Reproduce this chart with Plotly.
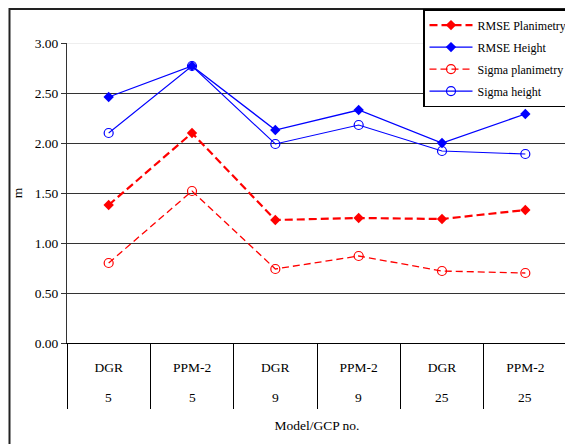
import plotly.graph_objects as go

models = ["DGR", "PPM-2", "DGR", "PPM-2", "DGR", "PPM-2"]
gcps = ["5", "5", "9", "9", "25", "25"]
rmse_plan = [1.38, 2.10, 1.23, 1.25, 1.24, 1.33]
rmse_height = [2.46, 2.77, 2.13, 2.33, 2.00, 2.29]
sigma_plan = [0.80, 1.52, 0.74, 0.87, 0.72, 0.70]
sigma_height = [2.10, 2.77, 1.99, 2.18, 1.92, 1.89]
y_ticks = [0.0, 0.5, 1.0, 1.5, 2.0, 2.5, 3.0]

keys = [f"{m} / {g}" for m, g in zip(models, gcps)]
FONT = "Times New Roman, Liberation Serif, serif"
RED = "#FF0000"
BLUE = "#0000FF"

fig = go.Figure()
fig.add_trace(go.Scatter(
    x=keys, y=rmse_plan, name="RMSE Planimetry", mode="lines+markers",
    line=dict(color=RED, width=2.2, dash="8px,4px"),
    marker=dict(symbol="diamond", size=8, color=RED), legendgroup="a"))
fig.add_trace(go.Scatter(
    x=keys, y=rmse_height, name="RMSE Height", mode="lines+markers",
    line=dict(color=BLUE, width=1.3),
    marker=dict(symbol="diamond", size=8, color=BLUE), legendgroup="b"))
fig.add_trace(go.Scatter(
    x=keys, y=sigma_plan, name="Sigma planimetry", mode="lines+markers",
    line=dict(color=RED, width=1.3, dash="7px,4px"),
    marker=dict(symbol="circle-open", size=9, color=RED, line=dict(width=1.2)),
    legendgroup="c"))
fig.add_trace(go.Scatter(
    x=keys, y=sigma_height, name="Sigma height", mode="lines+markers",
    line=dict(color=BLUE, width=1.1),
    marker=dict(symbol="circle-open", size=9, color=BLUE, line=dict(width=1.2)),
    legendgroup="d"))

# second row of category labels (GCP no.)
for k, g in zip(keys, gcps):
    fig.add_annotation(x=k, xref="x", y=-0.18, yref="paper", text=g,
                       showarrow=False, yanchor="middle",
                       font=dict(family=FONT, size=13.5, color="black"))

# light top gridline
fig.add_shape(type="line", xref="paper", x0=0, x1=1, yref="y", y0=3.0, y1=3.0,
              line=dict(color="#DDDDDD", width=1), layer="below")
# outer border
fig.add_shape(type="rect", xref="paper", yref="paper",
              x0=-0.115, x1=1.03, y0=-0.36, y1=1.113,
              line=dict(color="#222222", width=2))

fig.update_layout(
    width=565, height=436,
    margin=dict(l=59, r=6, t=35, b=101, autoexpand=False),
    paper_bgcolor="white", plot_bgcolor="white",
    font=dict(family=FONT, size=13.5, color="black"),
    showlegend=True,
    legend=dict(x=0.712, xanchor="left", y=1.113, yanchor="top",
                bgcolor="white", bordercolor="black", borderwidth=1.5,
                font=dict(family=FONT, size=12, color="black"),
                itemwidth=43, tracegroupgap=3, traceorder="grouped"),
    xaxis=dict(type="category", categoryorder="array", categoryarray=keys,
               tickmode="array", tickvals=keys, ticktext=models,
               range=[-0.5, 5.5], showgrid=False, showline=True,
               linecolor="black", linewidth=1, ticks="outside",
               tickson="boundaries", ticklen=65, tickcolor="black",
               tickwidth=1, ticklabelstandoff=12,
               title=dict(text="Model/GCP no.", standoff=46,
                          font=dict(family=FONT, size=13.5))),
    yaxis=dict(range=[0, 3.0001], tickmode="array", tickvals=y_ticks,
               ticktext=[f"{v:.2f}" for v in y_ticks],
               showgrid=True, gridcolor="#333333", gridwidth=1,
               zeroline=False, showline=True, linecolor="#333333",
               linewidth=1, ticks="outside", ticklen=5, tickcolor="#333333",
               title=dict(text="m", standoff=8,
                          font=dict(family=FONT, size=13.5))),
)

fig.write_html("out.html")
